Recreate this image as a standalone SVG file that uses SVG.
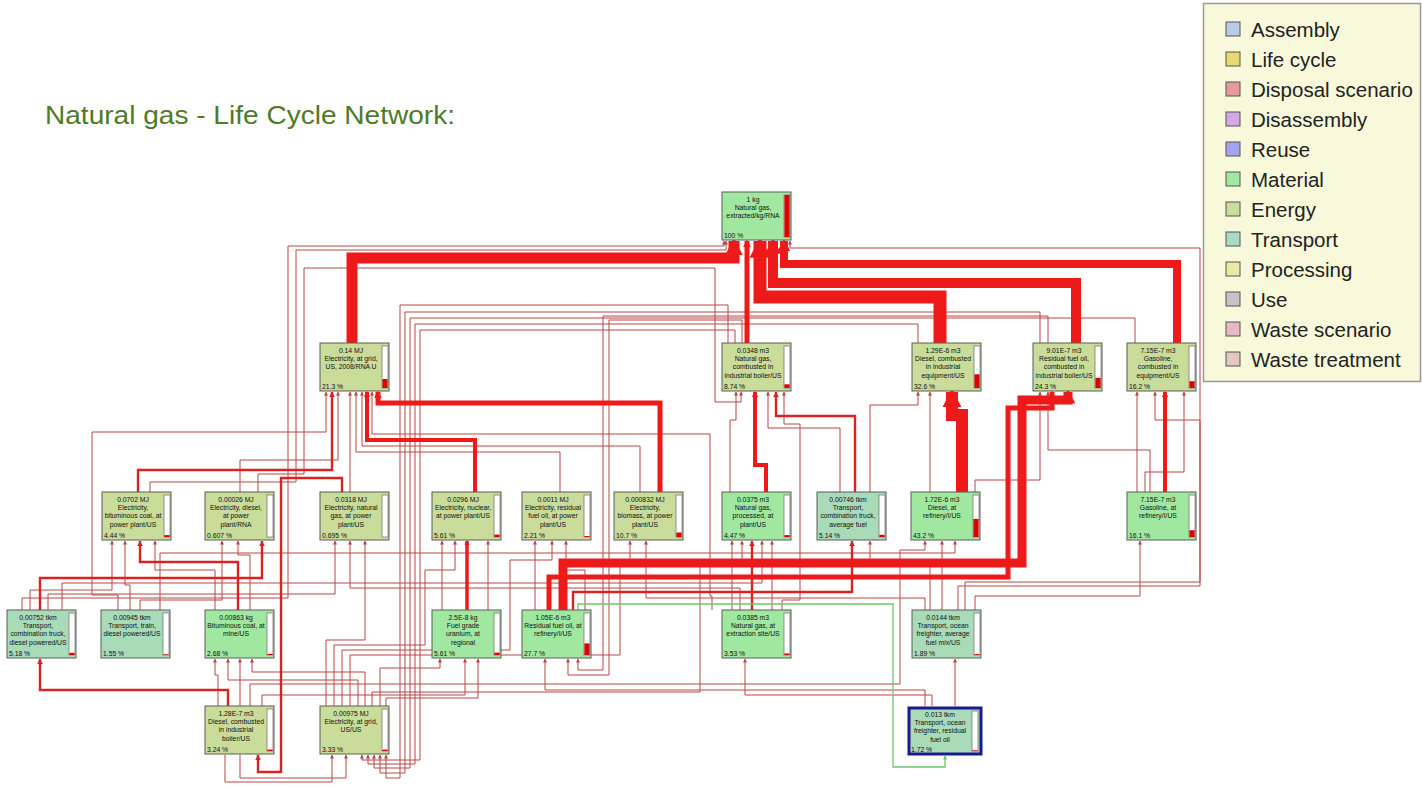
<svg xmlns="http://www.w3.org/2000/svg" width="1422" height="789" viewBox="0 0 1422 789">
<defs>
<style>
.nb{stroke:#5a5a5a;stroke-width:1}
.en{fill:#c9dc9a}
.ma{fill:#a0e8a0}
.tr{fill:#a9dbb8}
.bar{fill:#fff;stroke:#7a7a7a;stroke-width:0.8}
.bf{fill:#dd0000}
.t{font-family:"Liberation Sans",Arial,sans-serif;font-size:6.8px;fill:#111;text-anchor:middle}
.p{font-family:"Liberation Sans",Arial,sans-serif;font-size:6.8px;fill:#111}
.thin{fill:none;stroke:#b94646;stroke-width:1;marker-end:url(#ah)}
.med{fill:none;stroke:#d92222;stroke-width:2.4;marker-end:url(#ahM)}
.thick{fill:none;stroke:#ee1a1a;marker-end:url(#ahT)}
.lg{font-family:"Liberation Sans",Arial,sans-serif;font-size:20.5px;fill:#222}
.sq{stroke:#555;stroke-width:1}
</style>
<marker id="ah" viewBox="0 0 10 10" refX="9" refY="5" markerWidth="4" markerHeight="4" markerUnits="userSpaceOnUse" orient="auto"><path d="M0,0 L10,5 L0,10 z" fill="#b94646"/></marker>
<marker id="ahM" viewBox="0 0 10 10" refX="9" refY="5" markerWidth="6" markerHeight="6" markerUnits="userSpaceOnUse" orient="auto"><path d="M0,0 L10,5 L0,10 z" fill="#d92222"/></marker>
<marker id="ahT" viewBox="0 0 10 10" refX="8" refY="5" markerWidth="1.6" markerHeight="1.6" orient="auto"><path d="M0,0 L10,5 L0,10 z" fill="#ee1a1a"/></marker>
<marker id="ahG" viewBox="0 0 10 10" refX="9" refY="5" markerWidth="4" markerHeight="4" markerUnits="userSpaceOnUse" orient="auto"><path d="M0,0 L10,5 L0,10 z" fill="#6cc86c"/></marker>
</defs>
<rect width="1422" height="789" fill="#ffffff"/>
<text x="45" y="124" font-family="'Liberation Sans',Arial,sans-serif" font-size="25" fill="#4f7a28" textLength="410" lengthAdjust="spacingAndGlyphs">Natural gas - Life Cycle Network:</text>

<g id="connectors">
<g id="thin-links">
<path class="thin" d="M22 610 V598 H288 V246 H724 V241"/>
<path class="thin" d="M150 492 V482 H296 V250 H726 V241"/>
<path class="thin" d="M258 492 V474 H304 V268 H715 V402 H741 V392"/>
<path class="thin" d="M965 610 V582 H1200 V248 H790 V241"/>
<path class="thin" d="M1145 492 V472 H1184 V392"/>
<path class="thin" d="M728 343 V305 H400 V778 H386 V755"/>
<path class="thin" d="M1040 343 V312 H405 V773 H380 V755"/>
<path class="thin" d="M1135 343 V318 H410 V768 H374 V755"/>
<path class="thin" d="M918 343 V324 H415 V764 H368 V755"/>
<path class="thin" d="M735 343 V330 H420 V760 H362 V755"/>
<path class="thin" d="M1048 343 V316 H603 V670 H578 V659"/>
<path class="thin" d="M742 343 V320 H609 V675 H568 V659"/>
<path class="thin" d="M350 492 V392"/>
<path class="thin" d="M560 492 V452 H356 V392"/>
<path class="thin" d="M240 492 V460 H338 V392"/>
<path class="thin" d="M118 610 V595 H92 V432 H326 V392"/>
<path class="thin" d="M640 492 V446 H362 V392"/>
<path class="thin" d="M712 610 V596 H710 V434 H372 V392"/>
<path class="thin" d="M730 492 V420 H736 V392"/>
<path class="thin" d="M782 610 V600 H800 V424 H784 V392"/>
<path class="thin" d="M840 492 V428 H768 V392"/>
<path class="thin" d="M930 492 V392"/>
<path class="thin" d="M870 492 V405 H918 V392"/>
<path class="thin" d="M975 492 V480 H1040 V392"/>
<path class="thin" d="M1150 492 V450 H1048 V392"/>
<path class="thin" d="M1137 492 V392"/>
<path class="thin" d="M958 610 V586 H1200 V420 H1155 V392"/>
<path class="thin" d="M30 610 V590 H112 V541"/>
<path class="thin" d="M130 610 V585 H125 V541"/>
<path class="thin" d="M215 610 V570 H155 V541"/>
<path class="thin" d="M140 610 V600 H222 V541"/>
<path class="thin" d="M250 610 V555 H238 V541"/>
<path class="thin" d="M740 610 V588 H350 V541"/>
<path class="thin" d="M48 610 V594 H335 V541"/>
<path class="thin" d="M326 706 V640 H365 V541"/>
<path class="thin" d="M442 610 V541"/>
<path class="thin" d="M334 706 V645 H425 V570 H455 V541"/>
<path class="thin" d="M488 610 V541"/>
<path class="thin" d="M535 610 V541"/>
<path class="thin" d="M342 706 V650 H510 V560 H552 V541"/>
<path class="thin" d="M585 610 V570 H566 V541"/>
<path class="thin" d="M350 706 V655 H620 V560 H630 V541"/>
<path class="thin" d="M925 610 V598 H646 V541"/>
<path class="thin" d="M732 610 V541"/>
<path class="thin" d="M372 706 V692 H700 V560 H742 V541"/>
<path class="thin" d="M772 610 V541"/>
<path class="thin" d="M62 610 V583 H762 V541"/>
<path class="thin" d="M930 610 V560 H870 V541"/>
<path class="thin" d="M942 610 V541"/>
<path class="thin" d="M250 706 V684 H900 V550 H925 V541"/>
<path class="thin" d="M160 610 V553 H955 V541"/>
<path class="thin" d="M975 610 V596 H1140 V541"/>
<path class="thin" d="M218 706 V675 H215 V659"/>
<path class="thin" d="M358 706 V680 H228 V659"/>
<path class="thin" d="M240 706 V659"/>
<path class="thin" d="M365 706 V672 H252 V659"/>
<path class="thin" d="M380 706 V668 H440 V659"/>
<path class="thin" d="M262 706 V695 H465 V659"/>
<path class="thin" d="M386 706 V698 H478 V659"/>
<path class="thin" d="M925 706 V690 H545 V659"/>
<path class="thin" d="M955 706 V659"/>
<path class="thin" d="M932 706 V695 H745 V659"/>
<path class="thin" d="M225 755 V782 H332 V755"/>
<path class="thin" d="M240 755 V778 H346 V755"/>
</g>
<g id="medium-links">
<path class="med" d="M138 492 V470 H332 V392"/>
<path class="med" d="M855 492 V416 H776 V392"/>
<path class="med" d="M238 610 V562 H140 V541"/>
<path class="med" d="M752 610 V541"/>
<path class="med" d="M573 610 V592 H852 V541"/>
<path class="med" d="M342 492 V478 H281 V772 H258 V755"/>
<path class="med" d="M40 610 V578 H262 V541"/>
<path class="med" d="M228 706 V690 H40 V659"/>
</g>
<g id="thick-links">
<path class="thick" stroke-width="11" d="M352 343 V258 H734 V241"/>
<path class="thick" stroke-width="5" d="M747 343 V241"/>
<path class="thick" stroke-width="13" d="M940 343 V297 H760 V241"/>
<path class="thick" stroke-width="10" d="M1076 343 V283 H773 V241"/>
<path class="thick" stroke-width="8" d="M1177 343 V264 H784 V241"/>
<path class="thick" stroke-width="12" d="M962 492 V415 H952 V392"/>
<path class="thick" stroke-width="9" d="M563 610 V563 H1022 V400 H1068 V392"/>
<path class="thick" stroke-width="5" d="M549 610 V577 H1008 V408 H1052 V392"/>
<path class="thick" stroke-width="5" d="M660 492 V403 H378 V392"/>
<path class="thick" stroke-width="4" d="M475 492 V440 H367 V392"/>
<path class="thick" stroke-width="3.5" d="M467 610 V541"/>
<path class="thick" stroke-width="4" d="M766 492 V465 H755 V392"/>
<path class="thick" stroke-width="4" d="M1165 492 V392"/>
</g>
<path id="green-link" fill="none" stroke="#6cc86c" stroke-width="1.3" marker-end="url(#ahG)" d="M578 610 V604 H893 V767 H945 V756"/>
</g>

<g id="n-ng-extracted" transform="translate(722,192)"><rect class="nb ma" width="69" height="48"/><rect class="bar" x="62" y="3" width="6" height="42"/><rect class="bf" x="62.4" y="3" width="5.2" height="42"/><text class="t"><tspan x="31" y="9.5">1 kg</tspan><tspan x="31" y="17.9">Natural gas,</tspan><tspan x="31" y="26.3">extracted/kg/RNA</tspan></text><text class="p" x="2" y="45.5">100 %</text></g>

<g id="n-elec-grid-2008" transform="translate(320,343)"><rect class="nb en" width="69" height="48"/><rect class="bar" x="62" y="3" width="6" height="42"/><rect class="bf" x="62.4" y="36" width="5.2" height="9"/><text class="t"><tspan x="31" y="9.5">0.14 MJ</tspan><tspan x="31" y="17.9">Electricity, at grid,</tspan><tspan x="31" y="26.3">US, 2008/RNA U</tspan></text><text class="p" x="2" y="45.5">21.3 %</text></g>

<g id="n-ng-comb" transform="translate(722,343)"><rect class="nb en" width="69" height="48"/><rect class="bar" x="62" y="3" width="6" height="42"/><rect class="bf" x="62.4" y="41.3" width="5.2" height="3.7"/><text class="t"><tspan x="31" y="9.5">0.0348 m3</tspan><tspan x="31" y="17.9">Natural gas,</tspan><tspan x="31" y="26.3">combusted in</tspan><tspan x="31" y="34.7">industrial boiler/US</tspan></text><text class="p" x="2" y="45.5">8.74 %</text></g>

<g id="n-diesel-comb" transform="translate(912,343)"><rect class="nb en" width="69" height="48"/><rect class="bar" x="62" y="3" width="6" height="42"/><rect class="bf" x="62.4" y="31.3" width="5.2" height="13.7"/><text class="t"><tspan x="31" y="9.5">1.29E-6 m3</tspan><tspan x="31" y="17.9">Diesel, combusted</tspan><tspan x="31" y="26.3">in industrial</tspan><tspan x="31" y="34.7">equipment/US</tspan></text><text class="p" x="2" y="45.5">32.6 %</text></g>

<g id="n-resid-comb" transform="translate(1033,343)"><rect class="nb en" width="69" height="48"/><rect class="bar" x="62" y="3" width="6" height="42"/><rect class="bf" x="62.4" y="34.8" width="5.2" height="10.2"/><text class="t"><tspan x="31" y="9.5">9.01E-7 m3</tspan><tspan x="31" y="17.9">Residual fuel oil,</tspan><tspan x="31" y="26.3">combusted in</tspan><tspan x="31" y="34.7">industrial boiler/US</tspan></text><text class="p" x="2" y="45.5">24.3 %</text></g>

<g id="n-gasoline-comb" transform="translate(1127,343)"><rect class="nb en" width="69" height="48"/><rect class="bar" x="62" y="3" width="6" height="42"/><rect class="bf" x="62.4" y="38.2" width="5.2" height="6.8"/><text class="t"><tspan x="31" y="9.5">7.15E-7 m3</tspan><tspan x="31" y="17.9">Gasoline,</tspan><tspan x="31" y="26.3">combusted in</tspan><tspan x="31" y="34.7">equipment/US</tspan></text><text class="p" x="2" y="45.5">16.2 %</text></g>

<g id="n-elec-bit" transform="translate(102,492)"><rect class="nb en" width="69" height="48"/><rect class="bar" x="62" y="3" width="6" height="42"/><rect class="bf" x="62.4" y="43.1" width="5.2" height="1.9"/><text class="t"><tspan x="31" y="9.5">0.0702 MJ</tspan><tspan x="31" y="17.9">Electricity,</tspan><tspan x="31" y="26.3">bituminous coal, at</tspan><tspan x="31" y="34.7">power plant/US</tspan></text><text class="p" x="2" y="45.5">4.44 %</text></g>

<g id="n-elec-diesel" transform="translate(205,492)"><rect class="nb en" width="69" height="48"/><rect class="bar" x="62" y="3" width="6" height="42"/><text class="t"><tspan x="31" y="9.5">0.00026 MJ</tspan><tspan x="31" y="17.9">Electricity, diesel,</tspan><tspan x="31" y="26.3">at power</tspan><tspan x="31" y="34.7">plant/RNA</tspan></text><text class="p" x="2" y="45.5">0.607 %</text></g>

<g id="n-elec-ng" transform="translate(320,492)"><rect class="nb en" width="69" height="48"/><rect class="bar" x="62" y="3" width="6" height="42"/><text class="t"><tspan x="31" y="9.5">0.0318 MJ</tspan><tspan x="31" y="17.9">Electricity, natural</tspan><tspan x="31" y="26.3">gas, at power</tspan><tspan x="31" y="34.7">plant/US</tspan></text><text class="p" x="2" y="45.5">0.695 %</text></g>

<g id="n-elec-nuclear" transform="translate(432,492)"><rect class="nb en" width="69" height="48"/><rect class="bar" x="62" y="3" width="6" height="42"/><rect class="bf" x="62.4" y="42.6" width="5.2" height="2.4"/><text class="t"><tspan x="31" y="9.5">0.0296 MJ</tspan><tspan x="31" y="17.9">Electricity, nuclear,</tspan><tspan x="31" y="26.3">at power plant/US</tspan></text><text class="p" x="2" y="45.5">5.61 %</text></g>

<g id="n-elec-resid" transform="translate(522,492)"><rect class="nb en" width="69" height="48"/><rect class="bar" x="62" y="3" width="6" height="42"/><rect class="bf" x="62.4" y="44.1" width="5.2" height="0.9"/><text class="t"><tspan x="31" y="9.5">0.0011 MJ</tspan><tspan x="31" y="17.9">Electricity, residual</tspan><tspan x="31" y="26.3">fuel oil, at power</tspan><tspan x="31" y="34.7">plant/US</tspan></text><text class="p" x="2" y="45.5">2.21 %</text></g>

<g id="n-elec-biomass" transform="translate(614,492)"><rect class="nb en" width="69" height="48"/><rect class="bar" x="62" y="3" width="6" height="42"/><rect class="bf" x="62.4" y="40.5" width="5.2" height="4.5"/><text class="t"><tspan x="31" y="9.5">0.000832 MJ</tspan><tspan x="31" y="17.9">Electricity,</tspan><tspan x="31" y="26.3">biomass, at power</tspan><tspan x="31" y="34.7">plant/US</tspan></text><text class="p" x="2" y="45.5">10.7 %</text></g>

<g id="n-ng-processed" transform="translate(722,492)"><rect class="nb ma" width="69" height="48"/><rect class="bar" x="62" y="3" width="6" height="42"/><rect class="bf" x="62.4" y="43.1" width="5.2" height="1.9"/><text class="t"><tspan x="31" y="9.5">0.0375 m3</tspan><tspan x="31" y="17.9">Natural gas,</tspan><tspan x="31" y="26.3">processed, at</tspan><tspan x="31" y="34.7">plant/US</tspan></text><text class="p" x="2" y="45.5">4.47 %</text></g>

<g id="n-truck-avg" transform="translate(817,492)"><rect class="nb tr" width="69" height="48"/><rect class="bar" x="62" y="3" width="6" height="42"/><rect class="bf" x="62.4" y="42.8" width="5.2" height="2.2"/><text class="t"><tspan x="31" y="9.5">0.00746 tkm</tspan><tspan x="31" y="17.9">Transport,</tspan><tspan x="31" y="26.3">combination truck,</tspan><tspan x="31" y="34.7">average fuel</tspan></text><text class="p" x="2" y="45.5">5.14 %</text></g>

<g id="n-diesel-ref" transform="translate(911,492)"><rect class="nb ma" width="69" height="48"/><rect class="bar" x="62" y="3" width="6" height="42"/><rect class="bf" x="62.4" y="26.9" width="5.2" height="18.1"/><text class="t"><tspan x="31" y="9.5">1.72E-6 m3</tspan><tspan x="31" y="17.9">Diesel, at</tspan><tspan x="31" y="26.3">refinery/I/US</tspan></text><text class="p" x="2" y="45.5">43.2 %</text></g>

<g id="n-gasoline-ref" transform="translate(1127,492)"><rect class="nb ma" width="69" height="48"/><rect class="bar" x="62" y="3" width="6" height="42"/><rect class="bf" x="62.4" y="38.2" width="5.2" height="6.8"/><text class="t"><tspan x="31" y="9.5">7.15E-7 m3</tspan><tspan x="31" y="17.9">Gasoline, at</tspan><tspan x="31" y="26.3">refinery/I/US</tspan></text><text class="p" x="2" y="45.5">16.1 %</text></g>

<g id="n-truck-diesel" transform="translate(7,610)"><rect class="nb tr" width="69" height="48"/><rect class="bar" x="62" y="3" width="6" height="42"/><rect class="bf" x="62.4" y="42.8" width="5.2" height="2.2"/><text class="t"><tspan x="31" y="9.5">0.00752 tkm</tspan><tspan x="31" y="17.9">Transport,</tspan><tspan x="31" y="26.3">combination truck,</tspan><tspan x="31" y="34.7">diesel powered/US</tspan></text><text class="p" x="2" y="45.5">5.18 %</text></g>

<g id="n-train" transform="translate(101,610)"><rect class="nb tr" width="69" height="48"/><rect class="bar" x="62" y="3" width="6" height="42"/><rect class="bf" x="62.4" y="44.3" width="5.2" height="0.7"/><text class="t"><tspan x="31" y="9.5">0.00945 tkm</tspan><tspan x="31" y="17.9">Transport, train,</tspan><tspan x="31" y="26.3">diesel powered/US</tspan></text><text class="p" x="2" y="45.5">1.55 %</text></g>

<g id="n-bit-coal" transform="translate(205,610)"><rect class="nb ma" width="69" height="48"/><rect class="bar" x="62" y="3" width="6" height="42"/><rect class="bf" x="62.4" y="43.9" width="5.2" height="1.1"/><text class="t"><tspan x="31" y="9.5">0.00863 kg</tspan><tspan x="31" y="17.9">Bituminous coal, at</tspan><tspan x="31" y="26.3">mine/US</tspan></text><text class="p" x="2" y="45.5">2.68 %</text></g>

<g id="n-uranium" transform="translate(432,610)"><rect class="nb ma" width="69" height="48"/><rect class="bar" x="62" y="3" width="6" height="42"/><rect class="bf" x="62.4" y="42.6" width="5.2" height="2.4"/><text class="t"><tspan x="31" y="9.5">2.5E-8 kg</tspan><tspan x="31" y="17.9">Fuel grade</tspan><tspan x="31" y="26.3">uranium, at</tspan><tspan x="31" y="34.7">regional</tspan></text><text class="p" x="2" y="45.5">5.61 %</text></g>

<g id="n-resid-ref" transform="translate(522,610)"><rect class="nb ma" width="69" height="48"/><rect class="bar" x="62" y="3" width="6" height="42"/><rect class="bf" x="62.4" y="33.4" width="5.2" height="11.6"/><text class="t"><tspan x="31" y="9.5">1.05E-6 m3</tspan><tspan x="31" y="17.9">Residual fuel oil, at</tspan><tspan x="31" y="26.3">refinery/I/US</tspan></text><text class="p" x="2" y="45.5">27.7 %</text></g>

<g id="n-ng-extraction" transform="translate(722,610)"><rect class="nb ma" width="69" height="48"/><rect class="bar" x="62" y="3" width="6" height="42"/><rect class="bf" x="62.4" y="43.5" width="5.2" height="1.5"/><text class="t"><tspan x="31" y="9.5">0.0385 m3</tspan><tspan x="31" y="17.9">Natural gas, at</tspan><tspan x="31" y="26.3">extraction site/US</tspan></text><text class="p" x="2" y="45.5">3.53 %</text></g>

<g id="n-ocean-avg" transform="translate(912,610)"><rect class="nb tr" width="69" height="48"/><rect class="bar" x="62" y="3" width="6" height="42"/><rect class="bf" x="62.4" y="44.2" width="5.2" height="0.8"/><text class="t"><tspan x="31" y="9.5">0.0144 tkm</tspan><tspan x="31" y="17.9">Transport, ocean</tspan><tspan x="31" y="26.3">freighter, average</tspan><tspan x="31" y="34.7">fuel mix/US</tspan></text><text class="p" x="2" y="45.5">1.89 %</text></g>

<g id="n-diesel-boiler" transform="translate(205,706)"><rect class="nb en" width="69" height="48"/><rect class="bar" x="62" y="3" width="6" height="42"/><rect class="bf" x="62.4" y="43.6" width="5.2" height="1.4"/><text class="t"><tspan x="31" y="9.5">1.28E-7 m3</tspan><tspan x="31" y="17.9">Diesel, combusted</tspan><tspan x="31" y="26.3">in industrial</tspan><tspan x="31" y="34.7">boiler/US</tspan></text><text class="p" x="2" y="45.5">3.24 %</text></g>

<g id="n-elec-grid-us" transform="translate(320,706)"><rect class="nb en" width="69" height="48"/><rect class="bar" x="62" y="3" width="6" height="42"/><rect class="bf" x="62.4" y="43.6" width="5.2" height="1.4"/><text class="t"><tspan x="31" y="9.5">0.00975 MJ</tspan><tspan x="31" y="17.9">Electricity, at grid,</tspan><tspan x="31" y="26.3">US/US</tspan></text><text class="p" x="2" y="45.5">3.33 %</text></g>

<g id="n-ocean-resid" transform="translate(909,708)"><rect class="tr" width="72" height="46" stroke="#1a1a8c" stroke-width="3"/><rect class="bar" x="63" y="3" width="6" height="40"/><rect class="bf" x="63.4" y="42.3" width="5.2" height="0.7"/><text class="t"><tspan x="31" y="8.5">0.013 tkm</tspan><tspan x="31" y="16.9">Transport, ocean</tspan><tspan x="31" y="25.3">freighter, residual</tspan><tspan x="31" y="33.7">fuel oil</tspan></text><text class="p" x="2" y="43.5">1.72 %</text></g>

<g id="legend">
<rect x="1203.5" y="3.5" width="217" height="378" fill="#f8f8da" stroke="#9a9a9a" stroke-width="1.5"/>
<rect class="sq" x="1226" y="22" width="14" height="14" fill="#b8cbe8"/><text class="lg" x="1251" y="37">Assembly</text>
<rect class="sq" x="1226" y="52" width="14" height="14" fill="#e8d96e"/><text class="lg" x="1251" y="67">Life cycle</text>
<rect class="sq" x="1226" y="82" width="14" height="14" fill="#e89a9a"/><text class="lg" x="1251" y="97">Disposal scenario</text>
<rect class="sq" x="1226" y="112" width="14" height="14" fill="#d4a8e6"/><text class="lg" x="1251" y="127">Disassembly</text>
<rect class="sq" x="1226" y="142" width="14" height="14" fill="#a4a4ee"/><text class="lg" x="1251" y="157">Reuse</text>
<rect class="sq" x="1226" y="172" width="14" height="14" fill="#a0e8a0"/><text class="lg" x="1251" y="187">Material</text>
<rect class="sq" x="1226" y="202" width="14" height="14" fill="#c9dc9a"/><text class="lg" x="1251" y="217">Energy</text>
<rect class="sq" x="1226" y="232" width="14" height="14" fill="#a9dbc4"/><text class="lg" x="1251" y="247">Transport</text>
<rect class="sq" x="1226" y="262" width="14" height="14" fill="#eaeaa4"/><text class="lg" x="1251" y="277">Processing</text>
<rect class="sq" x="1226" y="292" width="14" height="14" fill="#c4c4c4"/><text class="lg" x="1251" y="307">Use</text>
<rect class="sq" x="1226" y="322" width="14" height="14" fill="#e8b8c4"/><text class="lg" x="1251" y="337">Waste scenario</text>
<rect class="sq" x="1226" y="352" width="14" height="14" fill="#e2c8c0"/><text class="lg" x="1251" y="367">Waste treatment</text>
</g>
</svg>
